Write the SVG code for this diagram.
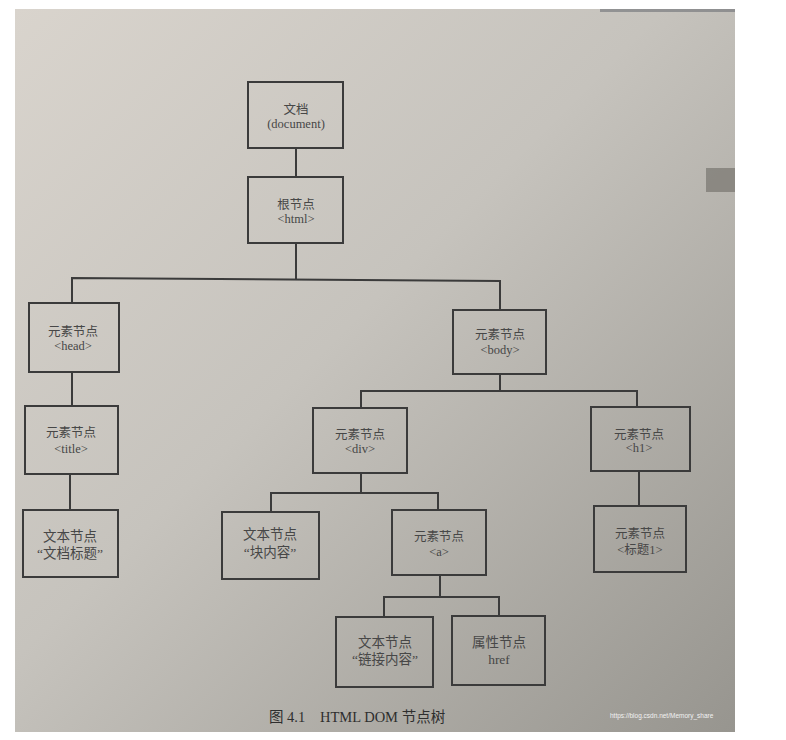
<svg xmlns="http://www.w3.org/2000/svg" width="786" height="740" viewBox="0 0 786 740">
<defs>
<linearGradient id="page" x1="0" y1="0" x2="1" y2="1">
<stop offset="0" stop-color="#d9d4cd"/>
<stop offset="0.45" stop-color="#c6c3bd"/>
<stop offset="1" stop-color="#97958f"/>
</linearGradient>
<style>
.box{fill:none;stroke:#3b3b3b;stroke-width:2}
.wire{fill:none;stroke:#3b3b3b;stroke-width:2}
.t{font-family:"Liberation Serif","Noto Sans CJK SC",serif;font-size:12.5px;fill:#474747;text-anchor:middle}
.cap{font-family:"Liberation Serif","Noto Sans CJK SC",serif;font-size:14.5px;fill:#2e2e2e}
</style>
</defs>
<rect width="786" height="740" fill="#ffffff"/>
<rect x="15" y="9" width="720" height="723" fill="url(#page)"/>
<rect x="600" y="9" width="135" height="3" fill="#5c6068" opacity="0.5"/>
<rect x="706" y="168" width="29" height="24" fill="#77756f" opacity="0.7"/>

<g id="connectors">
<path class="wire" d="M296,148 V177"/>
<path class="wire" d="M296,243 V279"/>
<path class="wire" d="M72,303 V278 L500,281 V310"/>
<path class="wire" d="M72,372 V406"/>
<path class="wire" d="M70,474 V510"/>
<path class="wire" d="M500,374 V391"/>
<path class="wire" d="M361,408 V391 H637 V407"/>
<path class="wire" d="M361,473 V493"/>
<path class="wire" d="M271,512 V493 H438 V510"/>
<path class="wire" d="M440,575 V597"/>
<path class="wire" d="M384,617 V597 H499 V616"/>
<path class="wire" d="M639,471 V506"/>
</g>

<g id="document">
<rect class="box" x="248" y="82" width="95" height="66"/>
<text class="t" x="296" y="114">文档</text>
<text class="t" x="296" y="128">(document)</text>
</g>
<g id="html">
<rect class="box" x="248" y="177" width="95" height="66"/>
<text class="t" x="296" y="209">根节点</text>
<text class="t" x="296" y="223">&lt;html&gt;</text>
</g>
<g id="head">
<rect class="box" x="29" y="303" width="90" height="69"/>
<text class="t" x="73" y="336">元素节点</text>
<text class="t" x="73" y="350">&lt;head&gt;</text>
</g>
<g id="body">
<rect class="box" x="453" y="310" width="93" height="64"/>
<text class="t" x="500" y="339">元素节点</text>
<text class="t" x="500" y="354">&lt;body&gt;</text>
</g>
<g id="title">
<rect class="box" x="25" y="406" width="93" height="68"/>
<text class="t" x="71" y="437">元素节点</text>
<text class="t" x="71" y="453">&lt;title&gt;</text>
</g>
<g id="div">
<rect class="box" x="313" y="408" width="94" height="65"/>
<text class="t" x="360" y="439">元素节点</text>
<text class="t" x="360" y="453">&lt;div&gt;</text>
</g>
<g id="h1">
<rect class="box" x="591" y="407" width="99" height="64"/>
<text class="t" x="639" y="439">元素节点</text>
<text class="t" x="639" y="452">&lt;h1&gt;</text>
</g>
<g id="text-title">
<rect class="box" x="23" y="510" width="95" height="67"/>
<text class="t" x="70" y="541" style="font-size:13.5px">文本节点</text>
<text class="t" x="70" y="558" style="font-size:13.5px">“文档标题”</text>
</g>
<g id="text-div">
<rect class="box" x="222" y="512" width="97" height="67"/>
<text class="t" x="270" y="539" style="font-size:13.5px">文本节点</text>
<text class="t" x="270" y="557" style="font-size:13.5px">“块内容”</text>
</g>
<g id="a">
<rect class="box" x="392" y="510" width="94" height="65"/>
<text class="t" x="439" y="541">元素节点</text>
<text class="t" x="439" y="556">&lt;a&gt;</text>
</g>
<g id="h1-text">
<rect class="box" x="594" y="506" width="92" height="66"/>
<text class="t" x="640" y="538">元素节点</text>
<text class="t" x="640" y="554">&lt;标题1&gt;</text>
</g>
<g id="text-a">
<rect class="box" x="336" y="617" width="97" height="70"/>
<text class="t" x="385" y="647" style="font-size:13.5px">文本节点</text>
<text class="t" x="385" y="664" style="font-size:13.5px">“链接内容”</text>
</g>
<g id="href">
<rect class="box" x="452" y="616" width="93" height="69"/>
<text class="t" x="499" y="647" style="font-size:13.5px">属性节点</text>
<text class="t" x="499" y="664" style="font-size:13.5px">href</text>
</g>

<text class="cap" x="269" y="722">图 4.1</text>
<text class="cap" x="320" y="722">HTML DOM 节点树</text>
<text x="610" y="718" style="font-family:'Liberation Sans',sans-serif;font-size:6.5px;fill:#f2f2f2">https://blog.csdn.net/Memory_share</text>
</svg>
